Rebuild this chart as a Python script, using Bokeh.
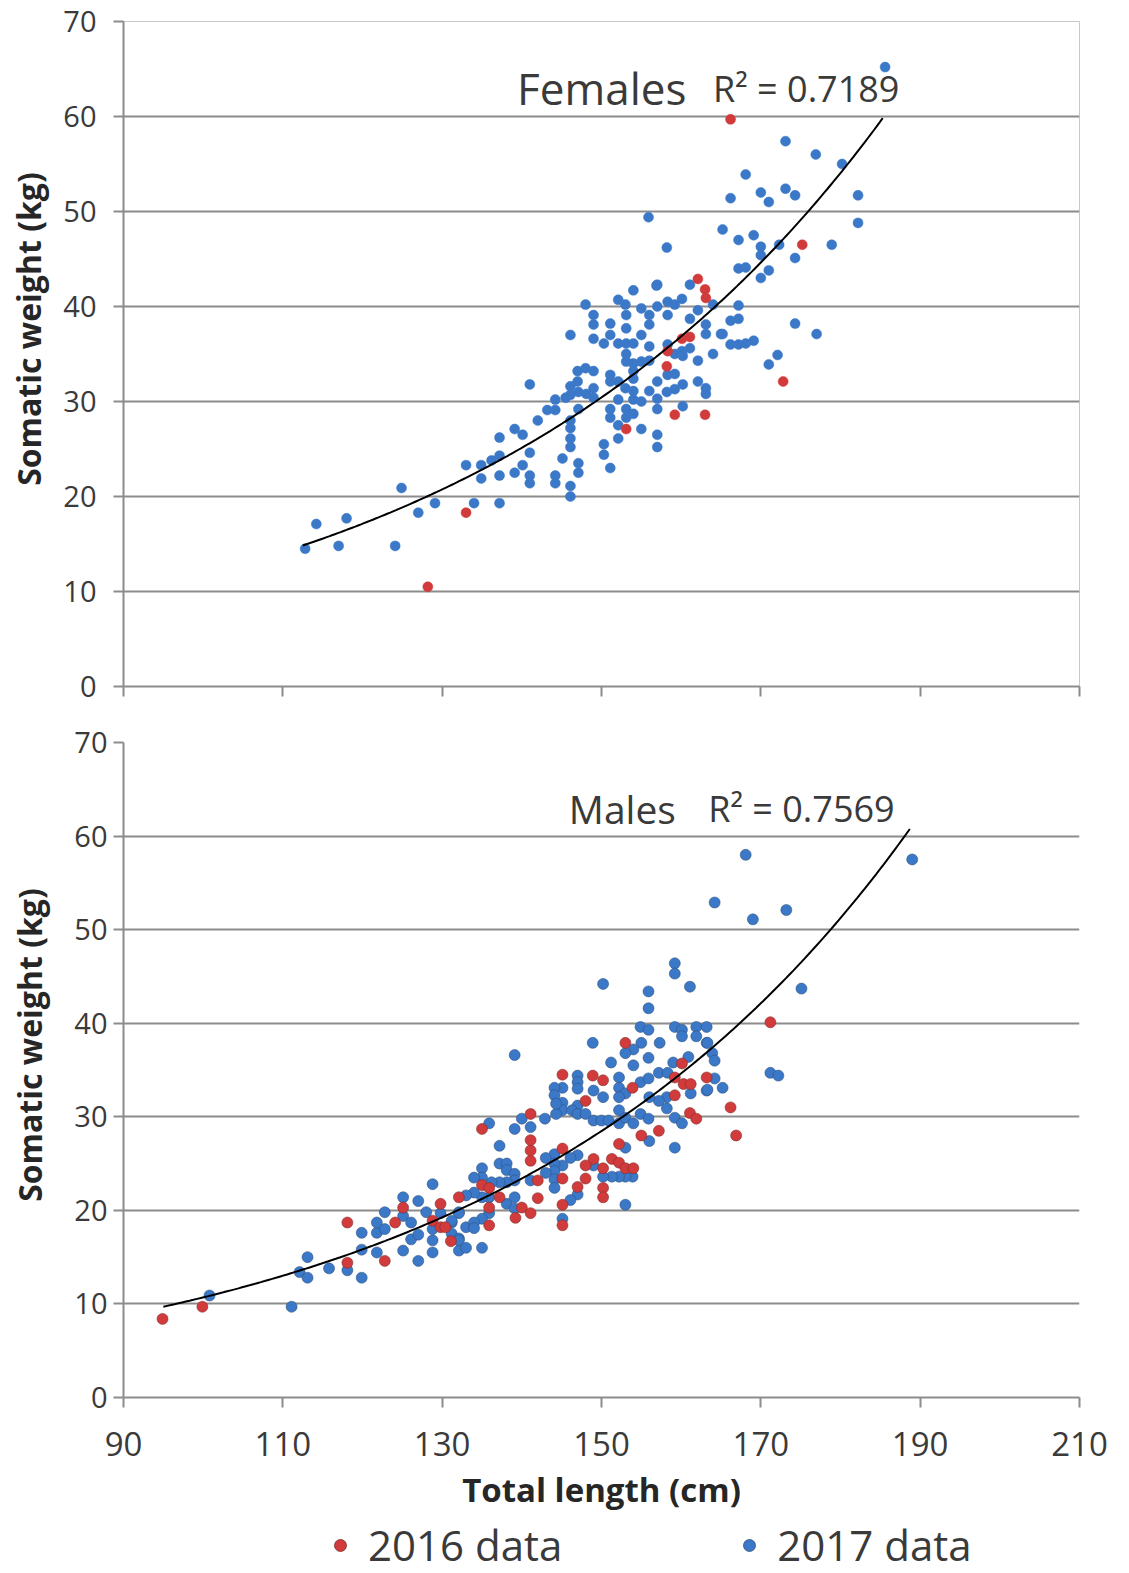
import numpy as np
from bokeh.plotting import figure
from bokeh.layouts import column
from bokeh.models import (FixedTicker, Label, Legend, LegendItem, Range1d,
                          CustomJSTickFormatter)
from bokeh.embed import file_html
from bokeh.resources import INLINE

# ---------------- data ----------------
x_ticks = [90, 110, 130, 150, 170, 190, 210]
y_ticks = [0, 10, 20, 30, 40, 50, 60, 70]

# Females, 2016 data
f16_len = [128.2, 133.0, 153.1, 159.2, 163.0, 158.2, 158.3, 160.1, 161.1, 162.1,
           163.0, 163.1, 166.2, 175.2, 172.8]
f16_wt = [10.5, 18.3, 27.1, 28.6, 28.6, 33.7, 35.3, 36.6, 36.8, 42.9,
          41.8, 40.9, 59.7, 46.5, 32.1]

# Females, 2017 data
f17_len = [112.8, 114.2, 117.0, 118.0, 124.1, 124.9, 127.0, 129.1, 133.0, 134.0,
           134.9, 134.9, 136.2, 137.2, 137.2, 137.2, 137.2, 139.1, 140.1, 139.1,
           140.1, 141.0, 141.0, 141.0, 141.0, 142.0, 143.2, 144.2, 144.2, 144.2,
           144.2, 145.1, 146.1, 146.1, 146.1, 146.1, 146.1, 146.1, 147.1, 147.1,
           147.1, 146.1, 146.1, 147.0, 148.0, 149.0, 147.0, 149.0, 146.1, 147.1,
           148.1, 149.0, 145.5, 148.0, 149.0, 149.0, 149.0, 150.3, 151.1, 151.1,
           152.1, 153.0, 154.0, 153.1, 153.1, 152.1, 153.1, 154.0, 155.0, 155.0,
           156.0, 156.0, 157.0, 157.0, 156.0, 153.1, 153.1, 154.0, 155.0, 156.0,
           154.0, 154.0, 151.1, 151.1, 152.1, 153.0, 152.1, 154.0, 154.0, 155.0,
           156.0, 157.0, 157.0, 153.1, 153.1, 154.0, 155.0, 152.1, 150.3, 150.3,
           151.1, 151.1, 151.1, 152.1, 157.0, 157.0, 157.0, 158.3, 158.3, 159.2,
           160.1, 161.1, 164.0, 162.1, 161.1, 163.1, 163.1, 158.3, 159.2, 160.1,
           160.2, 158.3, 159.2, 160.2, 159.2, 162.1, 162.1, 163.1, 163.1, 164.0,
           165.0, 160.2, 171.0, 172.1, 173.1, 176.9, 180.2, 168.1, 166.2, 170.0,
           171.0, 173.1, 174.3, 182.2, 182.2, 155.9, 165.2, 167.2, 169.1, 170.0,
           170.0, 172.3, 178.9, 174.3, 158.2, 167.2, 168.1, 171.0, 170.0, 156.9,
           167.2, 166.2, 167.2, 165.2, 166.2, 167.2, 168.1, 169.1, 174.3, 177.0,
           185.6, 158.2, 161.1]
f17_wt = [14.5, 17.1, 14.8, 17.7, 14.8, 20.9, 18.3, 19.3, 23.3, 19.3,
          23.3, 21.9, 23.8, 24.3, 22.2, 26.2, 19.3, 27.1, 26.5, 22.5,
          23.3, 24.6, 22.2, 21.4, 31.8, 28.0, 29.1, 29.1, 30.2, 22.2,
          21.4, 24.0, 28.0, 27.2, 26.1, 25.2, 21.1, 20.0, 23.5, 22.5,
          29.2, 37.0, 30.7, 33.2, 33.5, 33.2, 32.1, 31.4, 31.6, 31.0,
          30.8, 30.4, 30.4, 40.2, 39.1, 38.1, 36.6, 36.1, 38.2, 37.0,
          40.7, 40.2, 41.7, 39.1, 37.7, 36.1, 36.1, 36.1, 37.0, 39.8,
          39.1, 38.1, 42.3, 40.0, 35.8, 35.0, 34.2, 34.0, 34.2, 34.3,
          33.2, 32.4, 32.8, 32.1, 32.1, 31.4, 30.2, 31.1, 30.2, 30.0,
          31.1, 30.3, 29.2, 29.2, 28.3, 28.7, 27.1, 27.5, 25.5, 24.4,
          23.0, 29.2, 28.3, 26.1, 26.5, 25.2, 32.1, 40.5, 39.1, 40.2,
          40.8, 42.3, 40.2, 39.6, 38.7, 38.1, 37.1, 36.0, 35.0, 35.3,
          34.8, 32.8, 32.9, 31.8, 31.3, 34.3, 32.1, 31.4, 30.8, 35.0,
          37.1, 29.5, 33.9, 34.9, 57.4, 56.0, 55.0, 53.9, 51.4, 52.0,
          51.0, 52.4, 51.7, 51.7, 48.8, 49.4, 48.1, 47.0, 47.5, 46.3,
          45.4, 46.5, 46.5, 45.1, 46.2, 44.0, 44.1, 43.8, 43.0, 42.2,
          40.1, 38.5, 38.7, 37.1, 36.0, 36.0, 36.1, 36.4, 38.2, 37.1,
          65.2, 31.0, 35.6]

# Males, 2016 data
m16_len = [94.9, 99.9, 118.1, 118.1, 122.8, 124.1, 125.1, 128.8, 129.8, 129.8,
           131.1, 132.1, 153.0, 160.1, 159.2, 145.1, 148.9, 150.2, 153.9, 160.3,
           161.2, 163.2, 159.2, 148.0, 161.1, 161.9, 166.2, 166.9, 157.2, 155.0,
           152.2, 151.3, 152.2, 153.0, 154.0, 150.2, 150.2, 150.2, 148.0, 147.0,
           145.1, 145.1, 149.0, 148.0, 145.1, 145.1, 142.0, 142.0, 141.1, 141.1,
           141.1, 141.1, 135.0, 135.0, 135.9, 137.2, 140.0, 141.1, 135.9, 135.9,
           130.4, 139.2, 171.2]
m16_wt = [8.4, 9.7, 14.4, 18.7, 14.6, 18.7, 20.3, 18.9, 20.7, 18.2,
          16.7, 21.4, 37.9, 35.7, 34.2, 34.5, 34.4, 33.9, 33.1, 33.5,
          33.5, 34.2, 32.3, 31.7, 30.4, 29.8, 31.0, 28.0, 28.5, 28.0,
          27.1, 25.5, 25.1, 24.5, 24.5, 24.5, 22.4, 21.4, 23.4, 22.5,
          20.6, 18.4, 25.5, 24.8, 26.6, 23.4, 23.2, 21.3, 25.3, 26.4,
          27.5, 30.3, 28.7, 22.7, 22.4, 21.4, 20.3, 19.7, 20.3, 18.4,
          18.2, 19.2, 40.1]

# Males, 2017 data
m17_len = [100.8, 111.1, 112.1, 113.1, 113.1, 115.8, 118.1, 119.9, 119.9, 119.9,
           121.8, 121.8, 122.8, 122.8, 121.8, 125.1, 125.1, 126.1, 125.1, 126.1,
           127.0, 127.0, 127.0, 128.0, 128.8, 128.8, 128.8, 128.8, 129.8, 131.2,
           131.2, 132.1, 132.1, 132.1, 133.0,
           139.1, 150.2, 159.2, 159.2, 161.1, 155.9, 155.9, 154.9, 155.9, 159.2,
           160.1, 161.9, 163.2, 160.1, 161.9, 163.2, 157.3, 148.9, 155.0, 154.0,
           153.0, 155.9, 160.9, 163.9, 164.2, 151.2, 154.0, 159.0, 157.2, 158.3,
           147.0, 147.0, 147.0, 152.2, 152.2, 154.9, 155.9, 165.2, 163.2, 161.2,
           158.2, 157.2, 156.0, 153.0, 152.2, 150.2, 149.0, 147.0, 145.1, 144.1,
           144.1, 145.1, 145.1, 146.3, 147.0, 148.0, 149.0, 150.0, 150.9, 152.2,
           152.2, 153.0, 154.0, 154.9, 155.9, 158.2, 159.2, 160.1, 159.2, 156.0,
           153.0, 153.9, 153.0, 152.2, 151.3, 150.2, 153.0, 147.0, 146.1, 145.1,
           149.0, 147.0, 146.1, 145.1, 144.1, 144.1, 144.1, 144.1, 144.1, 143.0,
           143.0, 141.1, 141.1, 140.0, 139.1, 142.9, 144.3, 144.3, 135.9, 137.2,
           137.2, 138.1, 138.1, 139.1, 139.1, 138.1, 137.2, 136.2, 135.0, 135.0,
           134.0, 135.9, 135.0, 134.0, 133.0, 138.1, 139.1, 139.1, 135.9, 135.0,
           134.0, 134.0, 132.1, 131.2, 132.1, 133.0, 135.0,
           168.1, 189.0, 164.2, 173.2, 169.0, 175.1, 171.2, 172.2, 163.3, 164.2,
           163.3]
m17_wt = [10.9, 9.7, 13.4, 12.8, 15.0, 13.8, 13.6, 12.8, 15.8, 17.6,
          17.6, 18.7, 18.0, 19.8, 15.5, 21.4, 19.4, 18.7, 15.7, 16.9,
          21.0, 17.4, 14.6, 19.8, 22.8, 18.0, 16.8, 15.5, 19.7, 18.7,
          17.5, 19.8, 17.0, 15.7, 18.2,
          36.6, 44.2, 46.4, 45.3, 43.9, 43.4, 41.6, 39.6, 39.3, 39.6,
          39.3, 39.6, 39.6, 38.6, 38.6, 37.9, 37.9, 37.9, 37.9, 37.2,
          36.8, 36.3, 36.4, 36.8, 36.0, 35.8, 35.5, 35.8, 34.7, 34.7,
          34.4, 33.7, 33.0, 34.2, 33.1, 33.7, 34.1, 33.1, 32.8, 32.5,
          32.1, 31.7, 32.1, 32.5, 32.1, 32.1, 32.8, 31.2, 33.1, 33.1,
          32.3, 31.5, 30.7, 30.7, 30.3, 30.3, 29.6, 29.6, 29.6, 30.7,
          29.3, 29.9, 29.3, 30.3, 29.8, 30.9, 29.9, 29.3, 26.7, 27.4,
          26.7, 23.6, 23.6, 23.6, 23.6, 23.6, 20.6, 21.7, 21.1, 19.1,
          24.8, 25.9, 25.6, 24.8, 26.0, 25.0, 24.2, 23.3, 22.4, 25.6,
          24.0, 23.2, 28.9, 29.8, 28.7, 29.8, 30.3, 31.4, 29.3, 26.9,
          25.0, 25.0, 24.3, 23.9, 23.2, 23.0, 23.0, 23.0, 24.5, 23.5,
          23.5, 21.4, 21.4, 21.9, 21.6, 20.7, 21.4, 20.2, 19.7, 19.1,
          18.7, 18.1, 19.7, 18.9, 16.8, 16.0, 16.0,
          58.0, 57.5, 52.9, 52.1, 51.1, 43.7, 34.7, 34.4, 37.9, 34.1,
          32.9]

# exponential trend lines  y = a * exp(b * x)
fem_fit = dict(a=1.721, b=0.01915, x0=112.5, x1=185.3, r2="R\u00b2 = 0.7189")
mal_fit = dict(a=1.510, b=0.01958, x0=95.0, x1=188.7, r2="R\u00b2 = 0.7569")

# ---------------- styling ----------------
RED = "#d13b3b"
BLUE = "#3b78c8"
GRID = "#8c8c8c"
TXT = "#3a3a3a"
FONT = "Open Sans"
# leading no-break spaces nudge the centred title upward, as in the original
Y_TITLE = "\u00a0" * 6 + "Somatic weight (kg)"


def style_axes(p, ylab_standoff, title_standoff):
    p.xgrid.visible = False
    p.ygrid.ticker = FixedTicker(ticks=y_ticks)
    p.ygrid.grid_line_color = GRID
    p.ygrid.grid_line_width = 2
    for ax in (p.xaxis[0], p.yaxis[0]):
        ax.axis_line_color = GRID
        ax.axis_line_width = 2
        ax.major_tick_line_color = GRID
        ax.major_tick_line_width = 2
        ax.major_tick_out = 10
        ax.major_tick_in = 0
        ax.minor_tick_line_color = None
    p.xaxis.ticker = FixedTicker(ticks=x_ticks)
    p.yaxis.ticker = FixedTicker(ticks=y_ticks)
    p.yaxis.major_label_text_font = FONT
    p.yaxis.major_label_text_font_size = "29px"
    p.yaxis.major_label_text_color = TXT
    p.yaxis.major_label_standoff = ylab_standoff
    p.yaxis.axis_label = Y_TITLE
    p.yaxis.axis_label_text_font = FONT
    p.yaxis.axis_label_text_font_style = "bold"
    p.yaxis.axis_label_text_font_size = "32px"
    p.yaxis.axis_label_text_color = "#262626"
    p.yaxis.axis_label_standoff = title_standoff


def trend(p, fit):
    xs = np.linspace(fit["x0"], fit["x1"], 200)
    ys = fit["a"] * np.exp(fit["b"] * xs)
    p.line(xs, ys, line_color="black", line_width=2)


def caption(p, x, y, text, size):
    p.add_layout(Label(x=x, y=y, text=text, text_font=FONT, text_font_size=size,
                       text_color=TXT, text_baseline="middle"))


# ---------------- top: females ----------------
top = figure(width=1129, height=716, x_range=Range1d(90, 210), y_range=Range1d(0, 70),
             output_backend="svg", toolbar_location=None,
             min_border_top=21, min_border_bottom=30, min_border_left=123, min_border_right=50)
top.outline_line_color = "#c8c8c8"
top.outline_line_width = 1
style_axes(top, 17, 10)
top.xaxis.formatter = CustomJSTickFormatter(code="return ''")

top.scatter(f17_len, f17_wt, size=10, fill_color=BLUE, line_color=BLUE, line_width=0.5)
top.scatter(f16_len, f16_wt, size=10, fill_color=RED, line_color=RED, line_width=0.5)
trend(top, fem_fit)
caption(top, 139.4, 63.0, "Females", "44px")
caption(top, 164.0, 63.0, fem_fit["r2"], "36px")

# ---------------- bottom: males ----------------
bot = figure(width=1129, height=800, x_range=Range1d(90, 210), y_range=Range1d(0, 70),
             output_backend="svg", toolbar_location=None,
             min_border_top=26, min_border_bottom=119, min_border_left=123, min_border_right=47)
bot.outline_line_color = None
style_axes(bot, 6, 20)
bot.xaxis.major_label_text_font = FONT
bot.xaxis.major_label_text_font_size = "33px"
bot.xaxis.major_label_text_color = TXT
bot.xaxis.major_label_standoff = 24
bot.xaxis.axis_label = "Total length (cm)"
bot.xaxis.axis_label_text_font = FONT
bot.xaxis.axis_label_text_font_style = "bold"
bot.xaxis.axis_label_text_font_size = "33px"
bot.xaxis.axis_label_text_color = "#262626"
bot.xaxis.axis_label_standoff = 8

bot.scatter(m17_len, m17_wt, size=11, fill_color=BLUE, line_color="#2d4f7a",
            line_width=0.8, line_alpha=0.7)
bot.scatter(m16_len, m16_wt, size=11, fill_color=RED, line_color="#7a2d2d",
            line_width=0.8, line_alpha=0.7)
trend(bot, mal_fit)
caption(bot, 145.9, 62.9, "Males", "39px")
caption(bot, 163.4, 62.9, mal_fit["r2"], "36px")

# ---------------- legend strip ----------------
leg = figure(width=1129, height=57, x_range=Range1d(0, 1), y_range=Range1d(0, 1),
             output_backend="svg", toolbar_location=None,
             x_axis_location=None, y_axis_location=None, min_border=0)
leg.grid.visible = False
leg.outline_line_color = None
lr16 = leg.scatter([-5], [-5], size=12, fill_color=RED, line_color="#7a2d2d", line_width=0.8)
lr17 = leg.scatter([-5], [-5], size=12, fill_color=BLUE, line_color="#2d4f7a", line_width=0.8)
legend = Legend(items=[LegendItem(label="2016 data", renderers=[lr16]),
                       LegendItem(label="2017 data", renderers=[lr17])],
                orientation="horizontal", location=(202, 0), spacing=172,
                label_text_font=FONT, label_text_font_size="42px",
                label_text_color=TXT, label_standoff=13, glyph_width=30, glyph_height=30,
                border_line_color=None, background_fill_alpha=0, padding=0, margin=0)
leg.add_layout(legend, "center")

page = column(top, bot, leg, spacing=0)
open("out.html", "w").write(file_html(page, INLINE))
